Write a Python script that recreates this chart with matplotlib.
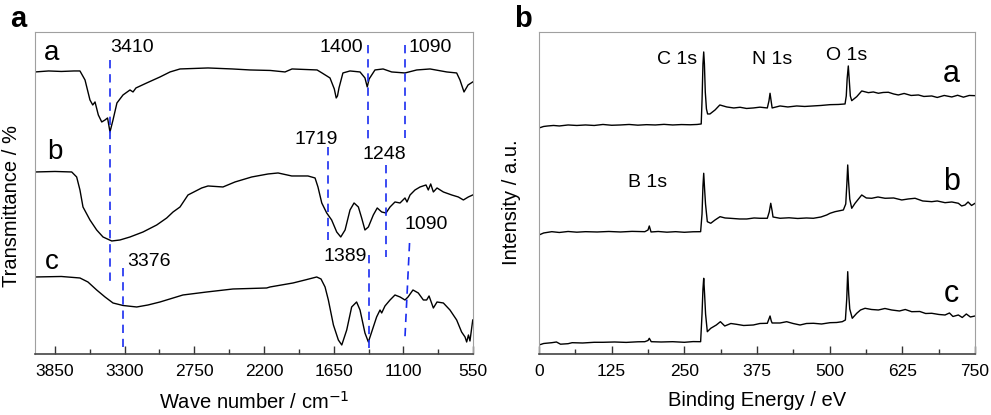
import matplotlib
matplotlib.use('Agg')
import matplotlib.pyplot as plt
from matplotlib.ticker import MultipleLocator

plt.rcParams['font.family'] = ['Liberation Sans', 'DejaVu Sans']

# ---- panel a : FTIR (wave number, relative transmittance) ----
ftir_a = [(4008, 282), (3900, 283), (3800, 282.5), (3700, 283), (3653, 283), (3613, 274),
          (3574, 254), (3552, 249), (3534, 252), (3508, 239), (3481, 232), (3455, 234),
          (3435, 236), (3416, 222), (3392, 234), (3361, 251), (3313, 259), (3258, 264),
          (3234, 262), (3211, 266), (3126, 271), (3021, 277), (2942, 282), (2863, 285),
          (2642, 286), (2450, 285), (2310, 284), (2150, 283.5), (2034, 282), (1979, 285),
          (1781, 284), (1742, 281), (1679, 276), (1645, 265), (1630, 256), (1620, 258),
          (1608, 266), (1577, 281), (1521, 283), (1442, 282), (1403, 276), (1385, 267),
          (1370, 275), (1324, 284), (1260, 285), (1192, 282), (1087, 281), (994, 284),
          (889, 285), (757, 282), (679, 281), (653, 274), (621, 262), (589, 269), (552, 272)]

ftir_b = [(4008, 182), (3850, 182.5), (3718, 182), (3679, 177), (3653, 164), (3629, 147),
          (3574, 134), (3521, 124), (3471, 117), (3402, 113), (3337, 114), (3258, 117),
          (3155, 122), (3047, 129), (2968, 136), (2918, 142), (2863, 147), (2800, 159),
          (2692, 166), (2642, 168), (2524, 167), (2429, 172), (2297, 177), (2168, 180),
          (2089, 181), (1981, 178), (1853, 178), (1797, 176), (1774, 167), (1744, 151),
          (1705, 141), (1666, 134), (1626, 122), (1594, 117), (1560, 124), (1521, 144),
          (1489, 151), (1455, 147), (1429, 136), (1403, 124), (1376, 127), (1337, 139),
          (1306, 146), (1271, 142), (1237, 141), (1205, 147), (1166, 152), (1126, 151),
          (1087, 156), (1071, 152), (1047, 159), (1008, 164), (968, 167), (921, 169),
          (903, 164), (884, 170), (863, 162), (834, 166), (784, 162), (718, 159),
          (666, 157), (626, 154), (587, 157), (552, 159)]

ftir_c = [(4008, 77), (3800, 77.5), (3653, 76), (3590, 72), (3521, 64), (3455, 57),
          (3392, 51), (3313, 48.5), (3205, 47), (3116, 49), (3021, 52), (2840, 59),
          (2652, 62), (2445, 65), (2310, 65.5), (2179, 66), (2153, 67), (1971, 71),
          (1876, 74), (1784, 77), (1750, 75), (1718, 67), (1692, 54), (1652, 29),
          (1613, 14), (1586, 9), (1547, 24), (1508, 47), (1469, 52), (1442, 44),
          (1403, 21), (1376, 12), (1350, 22), (1311, 37), (1284, 44), (1271, 41),
          (1245, 48), (1205, 54), (1166, 59), (1126, 57), (1087, 54), (1063, 57),
          (1024, 64), (982, 61), (942, 54), (916, 54), (897, 58), (863, 46),
          (834, 52), (784, 51), (732, 44), (679, 34), (640, 22), (613, 17),
          (600, 12), (586, 19), (574, 13), (552, 34)]

# dashed marker lines: (x_top, y_top, x_bottom, y_bottom)
ftir_marks = [(3416, 294, 3416, 71), (1379, 309, 1379, 214), (1087, 309, 1087, 216),
              (1695, 207, 1695, 114), (1239, 189, 1239, 97), (3311, 86, 3311, 7),
              (1371, 99, 1371, 6), (1051, 111, 1087, 17)]
# peak labels: (text, x, y, ha)
ftir_labels = [('3410', 3416, 306, 'left'), ('1400', 1418, 306, 'right'),
               ('1090', 1063, 306, 'left'), ('1719', 1616, 214, 'right'),
               ('1248', 1253, 199, 'center'), ('3376', 3282, 92, 'left'),
               ('1389', 1389, 97, 'right'), ('1090', 1087, 129, 'left')]
ftir_names = [('a', 3874, 301), ('b', 3850, 202), ('c', 3874, 92)]

# ---- panel b : XPS survey (binding energy, intensity) ----
xps_a = [(0, 226), (8, 227.5), (15, 228), (25, 228.5), (35, 228), (50, 229), (65, 228.5),
         (80, 229), (95, 228.5), (110, 229.5), (125, 228.7), (140, 229), (155, 229.5),
         (170, 228.8), (185, 229.3), (200, 229), (215, 229.6), (230, 229), (245, 229.4),
         (260, 229.2), (272, 229.5), (279, 230), (280.5, 255), (282, 290), (283.3, 302),
         (284.5, 290), (286, 262), (288, 245), (290, 240), (294, 240), (302.8, 244),
         (311, 249), (323, 247), (335, 246), (345.8, 246.7), (357, 245.5), (368.6, 246),
         (380, 246.8), (392.7, 246), (395.5, 253), (397.4, 260.7), (399.5, 252), (401, 246),
         (414.6, 248), (428, 247), (443.3, 248), (457, 247.5), (471, 248), (485, 248.5),
         (500.6, 249.3), (515, 249.5), (526.4, 250), (528.5, 258), (530, 275), (532, 288),
         (533.5, 275), (535.5, 258), (537.9, 253.3), (546.5, 257.3), (555.1, 263),
         (566.5, 261.3), (575, 262), (583.7, 260.7), (592, 261.5), (600.9, 261.7),
         (610, 260), (618, 259), (628, 260.5), (640, 258.5), (652.5, 259), (662, 257.5),
         (675.5, 258), (685, 256.5), (697, 258.5), (710, 257), (720, 258.7), (730, 256.8),
         (740, 258.5), (750, 258.3)]

xps_b = [(0, 119), (8, 121), (22, 122.3), (35, 121.5), (50, 122.5), (65, 121.8), (80, 122.3),
         (100, 122), (120, 122.5), (140, 122), (160, 122.6), (182, 122.3), (187.5, 124),
         (189.7, 128), (192.7, 122), (205, 122.5), (220, 121.8), (235, 122.3), (250, 121.7),
         (265, 122.2), (278, 122.3), (280.4, 140), (282, 168), (283.3, 180.7), (284.8, 165),
         (286.4, 150), (289.5, 132.3), (295.4, 130.7), (302.8, 134), (311.4, 137.3),
         (320, 136), (328.6, 135.7), (345, 135), (357.3, 135), (370, 136), (380.2, 135.7),
         (392.7, 135.7), (396, 142), (398.6, 150.7), (401, 143), (402.5, 137), (414.6, 135.7),
         (430, 136.2), (445, 135.5), (460, 136), (471.9, 135.7), (485, 137), (494.9, 139),
         (500.6, 140.7), (509.2, 142.3), (523.5, 144), (527.6, 150), (529.5, 170),
         (531, 189), (532.5, 172), (534.5, 155), (537.9, 145.7), (543.6, 150.7),
         (555.1, 159), (563, 156), (572.3, 155.7), (583, 157), (595.2, 155.7), (610, 156),
         (624, 154), (635, 155), (646.8, 155.7), (660, 153), (675.5, 152.3), (685, 153),
         (698.4, 151.3), (710, 152), (721.3, 150.7), (727, 148), (732.8, 149), (738, 152),
         (744, 148.5), (750, 150.7)]

xps_c = [(0, 9), (8, 10.5), (22, 11.3), (30, 12), (37, 9.8), (50, 10.3), (57, 11.3),
         (75, 11), (95, 11.7), (110, 11.7), (130, 12), (150, 11.6), (170, 12.2), (182, 12.3),
         (187.5, 13.5), (189.7, 15.7), (193, 12.3), (210, 12), (230, 12.3), (250, 11.7),
         (265, 12.4), (278, 12.3), (280.4, 40), (282, 65), (283.3, 75.7), (284.8, 60),
         (286.5, 40), (289.5, 22.3), (295.4, 25.7), (305, 29), (312, 32.3), (319.5, 28),
         (330, 30.5), (339.6, 29.7), (352, 28.5), (368.6, 29), (380, 30.5), (392.7, 30.7),
         (395.5, 35), (397.4, 38), (399.5, 33), (401, 31), (414.6, 31), (426, 32.3),
         (437, 30.5), (449, 29), (460, 30.5), (472, 30.7), (486, 30), (500.6, 31.3),
         (512, 31.5), (521.6, 32.3), (527, 34), (529.3, 55), (531, 82.3), (532.7, 60),
         (534.5, 45), (538.8, 35.7), (546.5, 40.7), (553, 44), (560.8, 45.7), (572, 44.5),
         (583.7, 44), (595, 45.5), (606.6, 44), (620, 43), (630, 44.5), (641, 42.3),
         (655, 42.5), (665, 40.5), (675.5, 40.7), (688, 39.5), (698.4, 39), (706, 41),
         (712, 37.5), (721.3, 39), (728, 36.5), (735, 40), (742, 37), (750, 38)]

xps_peaks = [('C 1s', 271.8, 294, 'right'), ('N 1s', 400.3, 294, 'center'),
             ('O 1s', 529.3, 298, 'center'), ('B 1s', 186.7, 171, 'center')]
xps_names = [('a', 708.8, 280), ('b', 708.8, 172), ('c', 708.8, 60)]

fig = plt.figure(figsize=(9.91, 4.15), dpi=100)
ax1 = fig.add_axes([0.0353, 0.147, 0.442, 0.776])
ax2 = fig.add_axes([0.5439, 0.147, 0.440, 0.776])

for curve in (ftir_a, ftir_b, ftir_c):
    xs, ys = zip(*curve)
    ax1.plot(xs, ys, color='black', lw=1.0)
for x0, y0, x1, y1 in ftir_marks:
    ax1.plot([x0, x1], [y0, y1], color='#1a2cf0', lw=1.2, dashes=(5, 3.5))
for txt, x, y, ha in ftir_labels:
    ax1.text(x, y, txt, fontsize=14, ha=ha, va='center')
for txt, x, y in ftir_names:
    ax1.text(x, y, txt, fontsize=20, ha='center', va='center')

for curve in (xps_a, xps_b, xps_c):
    xs, ys = zip(*curve)
    ax2.plot(xs, ys, color='black', lw=1.0)
for txt, x, y, ha in xps_peaks:
    ax2.text(x, y, txt, fontsize=14, ha=ha, va='center')
for txt, x, y in xps_names:
    ax2.text(x, y, txt, fontsize=22, ha='center', va='center')

ax1.set_xlim(4008, 550)
ax1.set_xticks([3850, 3300, 2750, 2200, 1650, 1100, 550])
ax1.xaxis.set_minor_locator(MultipleLocator(275))
ax1.set_xlabel('Wave number / cm$^{-1}$', fontsize=14.5, labelpad=9)
ax1.set_ylabel('Transmittance / %', fontsize=14.5)
ax1.yaxis.set_label_coords(-0.033, 0.46)

ax2.set_xlim(0, 750)
ax2.set_xticks([0, 125, 250, 375, 500, 625, 750])
ax2.xaxis.set_minor_locator(MultipleLocator(62.5))
ax2.set_xlabel('Binding Energy / eV', fontsize=14.5, labelpad=9)
ax2.set_ylabel('Intensity / a.u.', fontsize=14.5)
ax2.yaxis.set_label_coords(-0.042, 0.47)

for ax in (ax1, ax2):
    ax.set_ylim(0, 322)
    ax.set_yticks([])
    ax.tick_params(axis='x', which='major', direction='in', length=6, width=1,
                   labelsize=12.5, pad=7, color='#333333')
    ax.tick_params(axis='x', which='minor', direction='in', length=3.5, width=1,
                   color='#333333')
    for side in ('top', 'left', 'right'):
        ax.spines[side].set_color('#a0a0a0')
    ax.spines['bottom'].set_color('#444444')
    ax.spines['bottom'].set_linewidth(1.2)

fig.text(0.010, 0.955, 'a', fontsize=21, fontweight='bold', va='center')
fig.text(0.519, 0.955, 'b', fontsize=21, fontweight='bold', va='center')

fig.savefig('out.png', dpi=100)
